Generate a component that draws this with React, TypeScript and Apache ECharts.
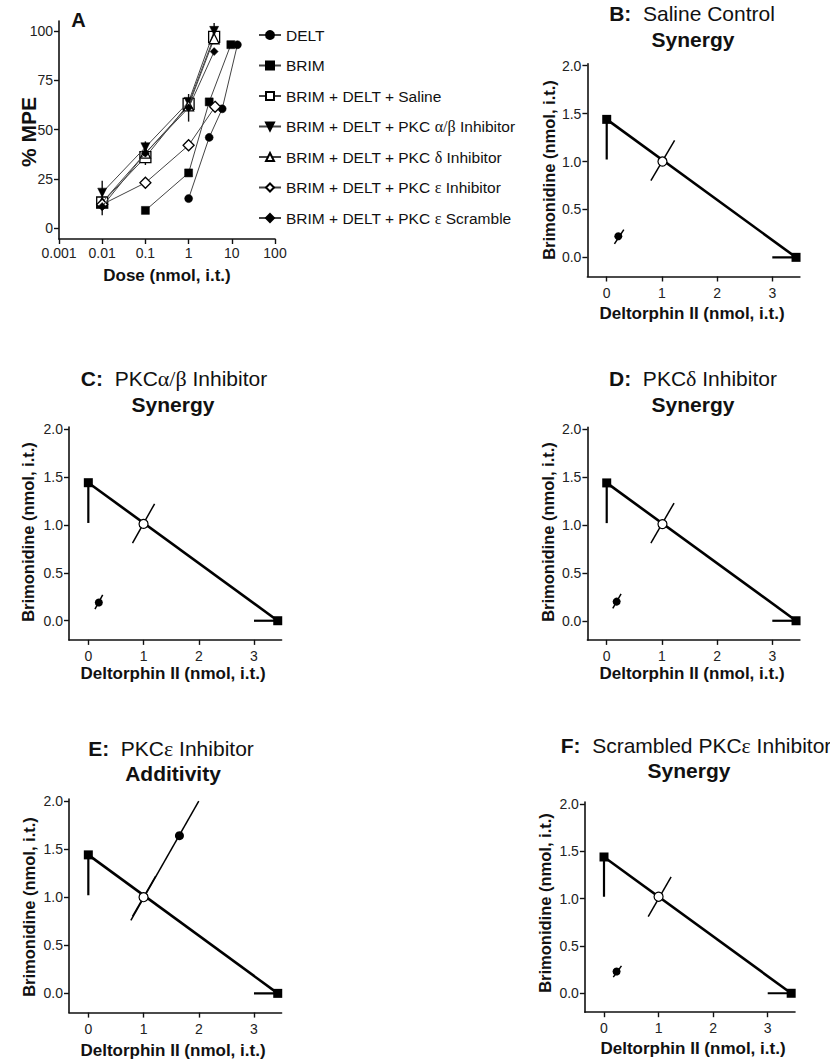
import React, { useEffect, useRef } from "react";
import * as echarts from "echarts";

const FONT = '"Liberation Sans", Arial, Helvetica, sans-serif';
const SERIF = '"Liberation Serif", "DejaVu Serif", "Times New Roman", serif';

// ---------- Panel A: dose-response ----------
const doseDELT = [1, 3, 6, 13.5];
const mpeDELT = [15, 46, 60.5, 93];
const doseBRIM = [0.1, 1, 3, 9.5];
const mpeBRIM = [9, 28, 64, 93];
const doseCombo = [0.01, 0.1, 1, 3.9];
const mpeSaline = [13, 36, 63, 97];
const mpeAB = [18, 41, 64, 100];
const mpeDelta = [13, 38, 62, 96];
const doseEps = [0.01, 0.1, 1, 4.1];
const mpeEps = [12, 23, 42, 61.5];
const mpeScramble = [11, 38, 61, 89.5];
const errDose = [0.01, 0.01, 0.1, 1, 3.9];
const errLow = [12, 6.5, 32, 54, 94];
const errHigh = [24, 14, 44, 68, 104];
const doseTicks = [0.001, 0.01, 0.1, 1, 10, 100];
const mpeTicks = [0, 25, 50, 75, 100];

const seriesNamesA = [
  "DELT",
  "BRIM",
  "BRIM + DELT + Saline",
  "BRIM + DELT + PKC α/β Inhibitor",
  "BRIM + DELT + PKC δ Inhibitor",
  "BRIM + DELT + PKC ε Inhibitor",
  "BRIM + DELT + PKC ε Scramble",
];

// ---------- Panels B-F: isobolograms ----------
const panelLetters = ["B", "C", "D", "E", "F"];
const panelTitles = [
  "Saline Control",
  "PKC{g|α/β} Inhibitor",
  "PKC{g|δ} Inhibitor",
  "PKC{g|ε} Inhibitor",
  "Scrambled PKC{g|ε} Inhibitor",
];
const panelOutcome = ["Synergy", "Synergy", "Synergy", "Additivity", "Synergy"];
const deltA50 = 3.43;
const deltA50Low = 3.0;
const brimA50 = 1.44;
const brimA50Low = 1.02;
const theoX = [1.01, 1.0, 1.01, 1.0, 1.0];
const theoY = [1.0, 1.01, 1.01, 1.0, 1.02];
const theoLoX = [0.8, 0.8, 0.8, 0.8, 0.81];
const theoLoY = [0.8, 0.81, 0.81, 0.8, 0.81];
const theoHiX = [1.23, 1.2, 1.22, 1.22, 1.23];
const theoHiY = [1.22, 1.22, 1.23, 1.22, 1.23];
const expX = [0.21, 0.19, 0.18, 1.65, 0.23];
const expY = [0.22, 0.19, 0.2, 1.64, 0.23];
const expLoX = [0.14, 0.12, 0.11, 0.77, 0.17];
const expLoY = [0.14, 0.12, 0.13, 0.76, 0.17];
const expHiX = [0.31, 0.26, 0.26, 2.0, 0.32];
const expHiY = [0.29, 0.27, 0.28, 2.0, 0.29];
const deltTicks = [0, 1, 2, 3];
const brimTicks = [0, 0.5, 1, 1.5, 2];

// layout (pixels)
const gridA = { left: 59, top: 21, width: 216, height: 218 };
const isoGrids = [
  { left: 587.4, top: 63.8, width: 212.5, height: 212.7 },
  { left: 69, top: 427.1, width: 212.6, height: 212.8 },
  { left: 587.4, top: 427.4, width: 212.5, height: 212.5 },
  { left: 69, top: 799.1, width: 212.6, height: 213.5 },
  { left: 584.9, top: 802.1, width: 210.1, height: 210.1 },
];
const titlePos = [
  [692, 13, 693, 39],
  [174, 378, 173, 404],
  [693, 378, 693, 404],
  [171, 748, 173, 773],
  [696, 745, 689, 770],
];
const yNamePos = [
  [549, 170],
  [28, 532],
  [548, 532],
  [29, 907],
  [545, 903],
];
const xNamePos = [
  [692, 313],
  [173, 673],
  [692, 673],
  [173, 1050],
  [693, 1048],
];

function axisCommon() {
  return {
    axisLine: { show: true, onZero: false, lineStyle: { color: "#111", width: 1.6 } },
    axisTick: { show: true, length: 5, inside: false, lineStyle: { color: "#111", width: 1.4 } },
    splitLine: { show: false },
  };
}

function textEl(x: number, y: number, text: string, size: number, bold: boolean, rotate = 0, rich?: any) {
  return {
    type: "text",
    x,
    y,
    rotation: rotate,
    silent: true,
    style: {
      text,
      fill: "#111",
      fontFamily: FONT,
      fontSize: size,
      fontWeight: bold ? "bold" : "normal",
      textAlign: "center",
      textVerticalAlign: "middle",
      align: "center",
      verticalAlign: "middle",
      rich,
    },
  };
}

function buildOption() {
  const grids: any[] = [gridA, ...isoGrids];
  const xAxes: any[] = [];
  const yAxes: any[] = [];
  const series: any[] = [];
  const graphics: any[] = [];

  // Panel A axes
  const ca = axisCommon();
  xAxes.push({
    type: "log",
    logBase: 10,
    gridIndex: 0,
    min: doseTicks[0],
    max: doseTicks[doseTicks.length - 1],
    ...ca,
    minorTick: { show: false },
    axisLabel: {
      fontFamily: FONT,
      fontSize: 14,
      color: "#222",
      margin: 7,
      formatter: (v: number) => String(+Number(v).toPrecision(6)),
    },
  });
  yAxes.push({
    type: "value",
    gridIndex: 0,
    min: -5.5,
    max: 105,
    ...ca,
    axisTick: { ...ca.axisTick, customValues: mpeTicks },
    axisLabel: {
      customValues: mpeTicks,
      fontFamily: FONT,
      fontSize: 14,
      color: "#222",
      margin: 6,
    },
  });

  const styleA = [
    { x: doseDELT, y: mpeDELT, symbol: "circle", size: 8, fill: "#000", rot: 0 },
    { x: doseBRIM, y: mpeBRIM, symbol: "rect", size: 8, fill: "#000", rot: 0 },
    { x: doseCombo, y: mpeSaline, symbol: "rect", size: 11, fill: "#fff", rot: 0 },
    { x: doseCombo, y: mpeAB, symbol: "triangle", size: 9, fill: "#000", rot: 180 },
    { x: doseCombo, y: mpeDelta, symbol: "triangle", size: 10, fill: "#fff", rot: 0 },
    { x: doseEps, y: mpeEps, symbol: "diamond", size: 11, fill: "#fff", rot: 0 },
    { x: doseCombo, y: mpeScramble, symbol: "diamond", size: 8, fill: "#000", rot: 0 },
  ];
  series.push({
    type: "custom",
    name: "err",
    xAxisIndex: 0,
    yAxisIndex: 0,
    silent: true,
    z: 1,
    encode: { x: 0, y: [1, 2] },
    data: errDose.map((d, i) => [d, errLow[i], errHigh[i]]),
    renderItem: (_p: any, api: any) => {
      const a = api.coord([api.value(0), api.value(1)]);
      const b = api.coord([api.value(0), api.value(2)]);
      return {
        type: "line",
        shape: { x1: a[0], y1: a[1], x2: b[0], y2: b[1] },
        style: { stroke: "#111", lineWidth: 1.4 },
      };
    },
  });
  styleA.forEach((s, i) => {
    series.push({
      type: "line",
      name: seriesNamesA[i],
      xAxisIndex: 0,
      yAxisIndex: 0,
      data: s.x.map((d, j) => [d, s.y[j]]),
      symbol: s.symbol,
      symbolSize: s.size,
      symbolRotate: s.rot,
      showSymbol: true,
      silent: true,
      z: 3 + i,
      lineStyle: { color: "#444", width: 1 },
      itemStyle: { color: s.fill, borderColor: "#000", borderWidth: s.fill === "#fff" ? 1.3 : 0.5, opacity: 1 },
    });
  });

  // Panel A texts
  graphics.push(textEl(78.5, 19.5, "A", 20, true));
  graphics.push(textEl(28, 132, "% MPE", 21, true, Math.PI / 2));
  graphics.push(textEl(167, 275, "Dose (nmol, i.t.)", 17, true));

  // Isobologram panels
  isoGrids.forEach((_g, p) => {
    const gi = p + 1;
    const c = axisCommon();
    xAxes.push({
      type: "value",
      gridIndex: gi,
      min: -0.35,
      max: 3.5,
      ...c,
      axisTick: { ...c.axisTick, customValues: deltTicks },
      axisLabel: {
        customValues: deltTicks,
        fontFamily: FONT,
        fontSize: 14,
        color: "#222",
        margin: 9,
        formatter: (v: number) => String(v),
      },
    });
    yAxes.push({
      type: "value",
      gridIndex: gi,
      min: -0.2,
      max: 2.02,
      ...c,
      axisTick: { ...c.axisTick, customValues: brimTicks },
      axisLabel: {
        customValues: brimTicks,
        fontFamily: FONT,
        fontSize: 14,
        color: "#222",
        margin: 6,
        formatter: (v: number) => Number(v).toFixed(1),
      },
    });
    const base = { xAxisIndex: gi, yAxisIndex: gi, silent: true };
    const seg = (data: number[][], w: number, z: number) => ({
      ...base,
      type: "line",
      data,
      symbol: "none",
      z,
      lineStyle: { color: "#000", width: w },
    });
    series.push(seg([[0, brimA50Low], [0, brimA50]], 2.2, 2));
    series.push(seg([[deltA50Low, 0], [deltA50, 0]], 2.2, 2));
    series.push({
      ...base,
      type: "line",
      data: [[0, brimA50], [deltA50, 0]],
      symbol: "rect",
      symbolSize: 9,
      z: 3,
      lineStyle: { color: "#000", width: 2.6 },
      itemStyle: { color: "#000" },
    });
    series.push(seg([[theoLoX[p], theoLoY[p]], [theoHiX[p], theoHiY[p]]], 1.5, 4));
    series.push(seg([[expLoX[p], expLoY[p]], [expHiX[p], expHiY[p]]], 1.5, 4));
    series.push({
      ...base,
      type: "scatter",
      data: [[theoX[p], theoY[p]]],
      symbol: "circle",
      symbolSize: 9,
      z: 6,
      itemStyle: { color: "#fff", borderColor: "#000", borderWidth: 1.2, opacity: 1 },
    });
    series.push({
      ...base,
      type: "scatter",
      data: [[expX[p], expY[p]]],
      symbol: "circle",
      symbolSize: p === 3 ? 9 : 8,
      z: 6,
      itemStyle: { color: "#000", opacity: 1 },
    });

    const [t1x, t1y, t2x, t2y] = titlePos[p];
    graphics.push(
      textEl(t1x, t1y, `{b|${panelLetters[p]}:}  ${panelTitles[p]}`, 21, false, 0, {
        b: { fontFamily: FONT, fontSize: 21, fontWeight: "bold", fill: "#111" },
        g: { fontFamily: SERIF, fontSize: 22, fill: "#111" },
      })
    );
    graphics.push(textEl(t2x, t2y, panelOutcome[p], 21, true));
    graphics.push(textEl(yNamePos[p][0], yNamePos[p][1], "Brimonidine (nmol, i.t.)", 16.5, true, Math.PI / 2));
    graphics.push(textEl(xNamePos[p][0], xNamePos[p][1], "Deltorphin II (nmol, i.t.)", 17, true));
  });

  return {
    animation: false,
    backgroundColor: "#fff",
    textStyle: { fontFamily: FONT },
    grid: grids.map((g) => ({ ...g, containLabel: false, show: false })),
    xAxis: xAxes,
    yAxis: yAxes,
    legend: {
      data: seriesNamesA,
      orient: "vertical",
      left: 258,
      top: 27,
      padding: 0,
      itemWidth: 22,
      itemHeight: 10,
      itemGap: 14.5,
      selectedMode: false,
      formatter: (name: string) => name.replace(/(α\/β|δ|ε)/, "{g|$1}"),
      textStyle: {
        fontFamily: FONT,
        fontSize: 15.5,
        color: "#111",
        lineHeight: 16,
        rich: {
          g: { fontFamily: SERIF, fontSize: 16, color: "#111", lineHeight: 16 },
        },
      },
    },
    series,
    graphic: graphics,
  };
}

export default function App() {
  const ref = useRef<HTMLDivElement>(null);
  useEffect(() => {
    if (!ref.current) return;
    const chart = echarts.init(ref.current, undefined, { renderer: "svg" });
    chart.setOption(buildOption() as any);
    return () => chart.dispose();
  }, []);
  return (
    <div
      ref={ref}
      style={{ position: "absolute", left: 0, top: 0, width: 830, height: 1061, background: "#fff" }}
    />
  );
}
